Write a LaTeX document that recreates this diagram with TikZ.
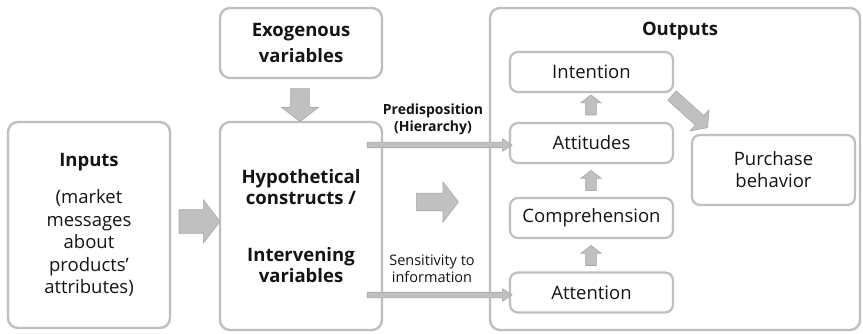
\documentclass[tikz,border=0pt]{standalone}
\usepackage{fontspec}
\setmainfont{Open Sans}
\usetikzlibrary{shapes.arrows}
\definecolor{boxline}{RGB}{191,191,191}
\definecolor{arrfill}{RGB}{192,192,192}
\definecolor{arrline}{RGB}{168,168,168}
\definecolor{txt}{RGB}{20,20,20}

\begin{document}
\begin{tikzpicture}[x=1pt,y=-1pt, line cap=round, line join=round]

\tikzset{
  box/.style={draw=boxline, line width=2.4pt, rounded corners=10pt, fill=white, align=center, text=txt, inner sep=0pt},
  sbox/.style={box, line width=2.2pt, rounded corners=8pt, minimum width=163pt, minimum height=40pt, font=\fontsize{18.5}{22}\selectfont},
  blockarr/.style n args={3}{single arrow, draw=arrline, fill=arrfill, line width=0.6pt, minimum width=0pt,
    inner sep=#1, single arrow head extend=#2, minimum height=#3, single arrow tip angle=105},
  lab/.style={align=center, text=txt, inner sep=0pt},
}

\useasboundingbox (0,0) rectangle (863,334);

% boxes
\node[box, minimum width=162pt, minimum height=206pt, font=\fontsize{18.5}{22.5}\selectfont] (inp) at (89,225)
  {\bfseries Inputs\\[15pt](market\\messages\\about\\products'\\attributes)};
\node[box, minimum width=162pt, minimum height=70pt, font=\fontsize{18.5}{26}\selectfont\bfseries] (exo) at (301,43)
  {Exogenous\\variables};
\node[box, minimum width=162pt, minimum height=208pt, font=\fontsize{18.5}{21}\selectfont\bfseries] (hyp) at (301,226)
  {Hypothetical\\constructs /\\[36pt]Intervening\\variables};
\node[box, minimum width=370pt, minimum height=322pt] (outp) at (675,169) {};
\node[lab, font=\fontsize{18.5}{22}\selectfont\bfseries] (outlab) at (680,31) {Outputs};

% output stages
\node[sbox] (int) at (591.5,72) {Intention};
\node[sbox] (att) at (591.5,143) {Attitudes};
\node[sbox] (com) at (591.5,218) {Comprehension};
\node[sbox] (atn) at (591.5,292.5) {Attention};
\node[sbox, minimum height=70pt] (pur) at (773.5,170) {Purchase\\behavior};

% block arrows
\node[blockarr={11.5pt}{10pt}{41pt}] (ainp) at (195,221.5) {};
\node[blockarr={9pt}{9pt}{33pt}, rotate=-90] (aexo) at (300,101.5) {};
\node[blockarr={8.5pt}{11.5pt}{42pt}] (ahyp) at (434,202) {};
\node[blockarr={6pt}{8pt}{48pt}, rotate=-42] (aint) at (688,110) {};
\foreach \yy/\nm in {107/a1, 182.5/a2, 257.5/a3}
  \node[blockarr={5pt}{5pt}{20pt}, rotate=90] (\nm) at (591,\yy) {};

% thin arrows into attitudes and attention
\node[blockarr={2.5pt}{3.5pt}{145pt}, single arrow tip angle=65] (apre) at (437.5,145) {};
\node[blockarr={2.5pt}{3.5pt}{145pt}, single arrow tip angle=65] (asen) at (437.5,295) {};

% labels
\node[lab, font=\fontsize{14}{17}\selectfont\bfseries] (prelab) at (433,119) {Predisposition\\(Hierarchy)};
\node[lab, font=\fontsize{14.5}{17}\selectfont] (senlab) at (432,269) {Sensitivity to\\information};

\end{tikzpicture}
\end{document}
